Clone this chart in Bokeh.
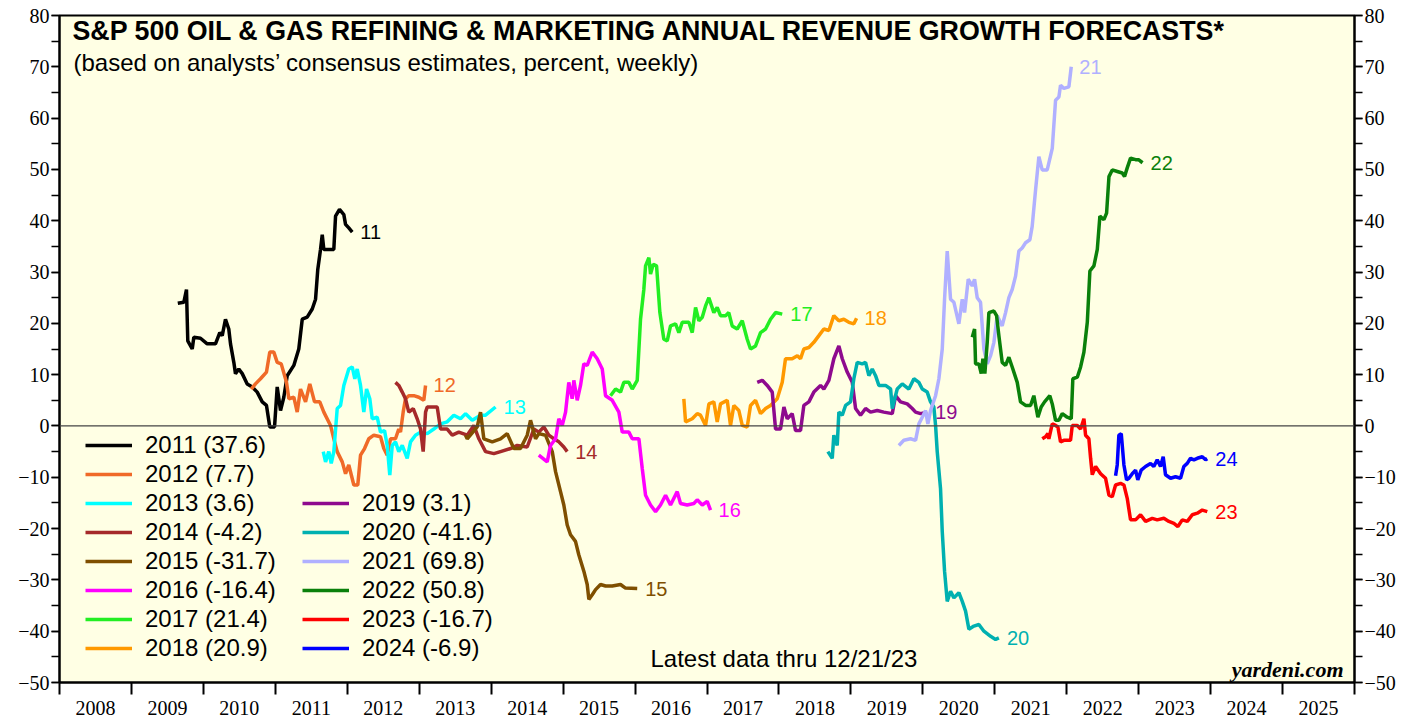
from bokeh.plotting import figure
from bokeh.models import (Range1d, LinearAxis, FixedTicker, SingleIntervalTicker, Span, Label,
                          Legend, LegendItem, ColumnDataSource)
from bokeh.core.properties import value
from bokeh.embed import file_html
from bokeh.resources import INLINE

# ---------------- data (decimal years, percent) ----------------
x2011 = [2009.644, 2009.728, 2009.765, 2009.783, 2009.845, 2009.867, 2009.96, 2010.053, 2010.168, 2010.228,
         2010.262, 2010.307, 2010.353, 2010.377, 2010.423, 2010.446, 2010.492, 2010.540, 2010.609, 2010.679,
         2010.748, 2010.818, 2010.877, 2010.923, 2010.989, 2011.026, 2011.072, 2011.118, 2011.165, 2011.257,
         2011.326, 2011.374, 2011.443, 2011.513, 2011.559, 2011.590, 2011.628, 2011.652, 2011.674, 2011.813,
         2011.837, 2011.892, 2011.952, 2011.976, 2012.021, 2012.069]
y2011 = [23.9, 24.1, 26.6, 16.6, 15.0, 17.3, 17.1, 16.0, 16.0, 18.2, 17.6, 20.8, 18.9, 16.0, 12.4, 10.2, 11.1,
         10.2, 8.2, 7.6, 6.6, 4.7, 4.0, -0.2, -0.2, 7.6, 3.0, 5.6, 9.8, 11.8, 15.0, 20.8, 21.2, 22.8, 24.7, 30.5,
         34.4, 37.3, 34.4, 34.4, 40.9, 42.2, 41.2, 39.3, 38.6, 37.8]

x2012 = [2010.665, 2010.724, 2010.794, 2010.877, 2010.923, 2010.979, 2011.026, 2011.082, 2011.155, 2011.188,
         2011.257, 2011.304, 2011.350, 2011.420, 2011.479, 2011.545, 2011.618, 2011.674, 2011.767, 2011.813,
         2011.860, 2011.930, 2011.976, 2012.021, 2012.091, 2012.146, 2012.184, 2012.240, 2012.299, 2012.369,
         2012.462, 2012.508, 2012.555, 2012.601, 2012.670, 2012.716, 2012.740, 2012.777, 2012.809, 2012.855,
         2012.925, 2012.994, 2013.064, 2013.088]
y2012 = [7.2, 8.2, 9.2, 10.5, 14.4, 14.4, 12.4, 12.1, 8.5, 5.3, 5.6, 2.7, 7.2, 4.7, 8.2, 4.7, 4.7, 2.7, 0.1, -2.5,
         -5.0, -7.0, -9.3, -7.6, -11.5, -11.5, -5.7, -4.4, -2.5, -1.8, -2.1, -4.4, -5.7, -2.5, -2.5, -0.6, -1.2,
         2.7, 5.3, 5.9, 5.9, 5.6, 5.0, 7.9]

x2013 = [2011.666, 2011.698, 2011.743, 2011.777, 2011.813, 2011.860, 2011.906, 2011.952, 2012.021, 2012.069,
         2012.105, 2012.138, 2012.184, 2012.230, 2012.268, 2012.313, 2012.347, 2012.416, 2012.462, 2012.518,
         2012.555, 2012.591, 2012.625, 2012.670, 2012.716, 2012.764, 2012.833, 2012.879, 2012.948, 2013.018,
         2013.111, 2013.203, 2013.296, 2013.389, 2013.481, 2013.574, 2013.644, 2013.737, 2013.852, 2013.922,
         2014.061]
y2013 = [-5.0, -7.0, -5.0, -7.3, -5.0, 3.4, 4.0, 7.9, 11.1, 11.5, 9.2, 11.1, 7.9, 2.7, 7.2, 5.3, 1.4, 1.7, -1.2,
         -0.9, -3.8, -9.6, -3.8, -3.1, -5.0, -3.8, -6.3, -3.1, -1.8, -1.2, -1.5, -0.6, 0.4, 0.8, 2.1, 1.4, 2.4,
         1.1, 2.1, 2.1, 3.7]

x2014 = [2012.670, 2012.716, 2012.764, 2012.809, 2012.855, 2012.917, 2012.972, 2013.018, 2013.055, 2013.088,
         2013.111, 2013.250, 2013.296, 2013.389, 2013.459, 2013.550, 2013.667, 2013.759, 2013.829, 2013.922,
         2014.037, 2014.130, 2014.269, 2014.362, 2014.501, 2014.593, 2014.662, 2014.732, 2014.801, 2014.871,
         2014.941, 2015.010, 2015.057]
y2014 = [8.5, 7.9, 6.6, 5.3, 2.7, 3.4, 1.4, -0.6, -5.0, 2.7, 3.7, 3.7, -0.6, -0.6, -1.8, -1.2, -1.8, 0.1, -2.5,
         -5.0, -5.4, -5.0, -4.4, -3.8, -4.1, -0.6, -1.2, -0.2, -1.8, -2.5, -3.1, -4.1, -5.0]

x2015 = [2013.644, 2013.667, 2013.806, 2013.852, 2013.898, 2014.015, 2014.130, 2014.223, 2014.315, 2014.408,
         2014.501, 2014.547, 2014.617, 2014.662, 2014.755, 2014.849, 2014.895, 2014.964, 2015.010, 2015.057,
         2015.103, 2015.172, 2015.218, 2015.288, 2015.335, 2015.358, 2015.405, 2015.451, 2015.520, 2015.590,
         2015.683, 2015.798, 2015.867, 2016.030]
y2015 = [-1.8, -2.5, -0.2, 2.7, -2.5, -3.1, -2.5, -1.5, -4.4, -4.4, -1.8, 1.1, -2.5, -1.5, -1.8, -5.0, -8.9,
         -12.8, -15.4, -19.3, -21.2, -22.5, -25.1, -28.3, -30.9, -33.8, -32.9, -31.9, -30.9, -31.2, -31.2,
         -30.9, -31.6, -31.7]

x2016 = [2014.662, 2014.779, 2014.825, 2014.895, 2014.941, 2014.988, 2015.034, 2015.079, 2015.126, 2015.149,
         2015.196, 2015.242, 2015.288, 2015.335, 2015.405, 2015.474, 2015.544, 2015.590, 2015.683, 2015.775,
         2015.822, 2015.914, 2015.961, 2016.053, 2016.100, 2016.146, 2016.215, 2016.285, 2016.354, 2016.424,
         2016.493, 2016.586, 2016.632, 2016.725, 2016.817, 2016.864, 2016.934, 2017.003, 2017.049]
y2016 = [-5.7, -7.0, -3.8, -2.5, 1.4, 0.1, 2.7, 8.5, 5.3, 8.9, 5.0, 7.9, 12.1, 11.8, 14.4, 13.1, 11.1, 5.9, 5.0,
         2.7, -1.2, -1.2, -2.5, -2.5, -8.3, -13.5, -15.4, -16.7, -15.4, -13.5, -15.4, -12.8, -15.1, -15.4,
         -15.1, -14.4, -15.4, -14.7, -16.4]

x2017 = [2015.659, 2015.729, 2015.798, 2015.844, 2015.914, 2015.961, 2016.030, 2016.076, 2016.122, 2016.146,
         2016.192, 2016.215, 2016.253, 2016.299, 2016.345, 2016.400, 2016.447, 2016.493, 2016.563, 2016.609,
         2016.656, 2016.748, 2016.795, 2016.841, 2016.887, 2016.934, 2016.980, 2017.026, 2017.095, 2017.142,
         2017.188, 2017.258, 2017.303, 2017.350, 2017.420, 2017.490, 2017.559, 2017.605, 2017.675, 2017.744,
         2017.814, 2017.883, 2017.953, 2018.046]
y2017 = [5.9, 7.2, 6.6, 8.5, 8.5, 7.2, 8.9, 20.8, 26.6, 31.2, 32.8, 29.6, 31.5, 31.2, 22.1, 16.9, 16.6, 19.5,
         19.9, 18.2, 20.2, 20.2, 18.2, 23.1, 20.5, 21.2, 23.4, 25.0, 22.1, 23.1, 21.5, 21.5, 22.1, 19.5, 18.9,
         20.5, 16.9, 15.0, 15.6, 18.2, 18.9, 20.8, 22.1, 21.8]

x2018 = [2016.678, 2016.702, 2016.795, 2016.864, 2016.910, 2016.980, 2017.026, 2017.095, 2017.142, 2017.188,
         2017.281, 2017.327, 2017.373, 2017.443, 2017.490, 2017.559, 2017.605, 2017.675, 2017.744, 2017.814,
         2017.883, 2017.976, 2018.046, 2018.091, 2018.184, 2018.256, 2018.300, 2018.346, 2018.416, 2018.485,
         2018.555, 2018.624, 2018.694, 2018.763, 2018.833, 2018.902, 2018.972, 2019.041, 2019.079]
y2018 = [5.3, 0.8, 1.4, 2.4, 2.1, 0.1, 4.3, 4.7, 0.8, 4.3, 5.0, 0.1, 4.0, 3.0, 0.1, -0.2, 4.0, 5.0, 2.4, 3.4,
         4.0, 5.3, 8.5, 13.1, 13.1, 13.7, 13.1, 15.0, 15.3, 16.3, 17.6, 18.9, 18.6, 21.5, 20.5, 20.8, 20.2,
         19.9, 21.0]

x2019 = [2017.698, 2017.768, 2017.837, 2017.907, 2017.953, 2018.022, 2018.069, 2018.115, 2018.184, 2018.231,
         2018.300, 2018.346, 2018.416, 2018.485, 2018.578, 2018.624, 2018.694, 2018.763, 2018.833, 2018.880,
         2018.949, 2019.019, 2019.065, 2019.134, 2019.204, 2019.273, 2019.366, 2019.458, 2019.575, 2019.621,
         2019.690, 2019.783, 2019.853, 2019.899, 2019.968, 2020.061]
y2019 = [8.5, 8.9, 7.9, 6.6, -0.6, -0.6, 3.7, 1.4, 2.4, -0.9, -0.9, 4.0, 4.7, 6.6, 7.9, 7.2, 8.9, 13.1, 15.6,
         13.1, 10.5, 8.5, 3.4, 2.1, 3.4, 2.7, 3.0, 2.7, 2.4, 5.9, 4.7, 4.3, 3.4, 2.7, 2.4, 2.7]

x2020 = [2018.680, 2018.741, 2018.763, 2018.810, 2018.833, 2018.880, 2018.926, 2018.995, 2019.041, 2019.088,
         2019.158, 2019.204, 2019.250, 2019.297, 2019.343, 2019.389, 2019.482, 2019.552, 2019.575, 2019.644,
         2019.714, 2019.806, 2019.876, 2019.945, 2019.992, 2020.061, 2020.107, 2020.153, 2020.177, 2020.200,
         2020.246, 2020.270, 2020.302, 2020.339, 2020.385, 2020.432, 2020.501, 2020.548, 2020.594, 2020.640,
         2020.710, 2020.779, 2020.849, 2020.942, 2021.011, 2021.057]
y2020 = [-5.0, -6.3, -1.8, -3.8, 2.7, 2.1, 4.0, 4.7, 9.2, 12.4, 12.1, 12.4, 9.8, 11.1, 9.8, 7.9, 7.9, 7.2, 3.4,
         7.2, 8.2, 7.2, 9.2, 8.5, 7.2, 6.6, 4.7, 3.7, 0.1, -5.0, -12.2, -20.6, -28.3, -34.2, -32.2, -33.5,
         -32.5, -34.2, -36.1, -39.6, -39.0, -38.7, -40.0, -41.0, -41.6, -41.3]

x2021 = [2019.667, 2019.736, 2019.829, 2019.899, 2019.945, 2019.992, 2020.038, 2020.070, 2020.107, 2020.177,
         2020.223, 2020.270, 2020.302, 2020.339, 2020.385, 2020.432, 2020.501, 2020.548, 2020.580, 2020.631,
         2020.687, 2020.719, 2020.756, 2020.802, 2020.849, 2020.895, 2020.942, 2020.988, 2021.034, 2021.103,
         2021.150, 2021.196, 2021.242, 2021.289, 2021.335, 2021.381, 2021.428, 2021.488, 2021.520, 2021.567,
         2021.613, 2021.659, 2021.729, 2021.799, 2021.845, 2021.891, 2021.914, 2021.960, 2022.030, 2022.063]
y2021 = [-3.8, -2.8, -2.5, -2.8, 0.4, 1.7, 3.0, 0.4, 3.0, 5.9, 9.2, 15.0, 24.7, 34.1, 24.7, 24.1, 19.9, 24.7,
         22.1, 28.6, 27.3, 28.6, 25.0, 24.1, 15.0, 12.1, 13.7, 16.3, 21.5, 19.5, 22.1, 25.0, 26.6, 29.2, 34.1,
         34.7, 35.7, 36.3, 38.9, 46.0, 52.5, 49.9, 49.9, 54.1, 63.5, 64.1, 66.4, 65.8, 66.1, 70.0]

x2022 = [2020.687, 2020.719, 2020.733, 2020.779, 2020.812, 2020.835, 2020.862, 2020.895, 2020.918, 2020.988,
         2021.025, 2021.057, 2021.103, 2021.150, 2021.196, 2021.242, 2021.312, 2021.358, 2021.428, 2021.497,
         2021.543, 2021.599, 2021.645, 2021.692, 2021.765, 2021.799, 2021.845, 2021.891, 2021.938, 2022.007,
         2022.063, 2022.085, 2022.147, 2022.193, 2022.239, 2022.286, 2022.322, 2022.378, 2022.425, 2022.461,
         2022.517, 2022.554, 2022.587, 2022.633, 2022.703, 2022.772, 2022.804, 2022.841, 2022.887, 2022.957,
         2022.998, 2023.054]
y2022 = [17.3, 18.9, 12.1, 12.1, 10.2, 13.1, 10.2, 16.3, 22.1, 22.4, 21.5, 17.6, 12.4, 11.8, 13.4, 11.5, 8.5,
         4.7, 4.0, 4.0, 5.9, 1.7, 3.7, 4.7, 5.9, 4.3, 1.1, 1.1, 2.4, 1.7, 1.4, 9.2, 9.5, 11.5, 14.4, 20.2, 30.2,
         31.2, 34.4, 40.9, 40.2, 41.5, 48.6, 49.9, 49.6, 49.3, 48.6, 50.3, 52.2, 51.9, 51.9, 51.3]

x2023 = [2021.660, 2021.706, 2021.738, 2021.752, 2021.799, 2021.845, 2021.877, 2021.914, 2021.960, 2022.053,
         2022.077, 2022.147, 2022.193, 2022.239, 2022.262, 2022.308, 2022.332, 2022.355, 2022.401, 2022.471,
         2022.540, 2022.587, 2022.633, 2022.679, 2022.749, 2022.795, 2022.841, 2022.887, 2022.957, 2023.026,
         2023.096, 2023.189, 2023.258, 2023.350, 2023.420, 2023.490, 2023.545, 2023.606, 2023.676, 2023.745,
         2023.815, 2023.884, 2023.954]
y2023 = [-2.5, -2.1, -1.5, -2.5, 0.4, 0.1, -0.2, -3.1, -2.8, -2.8, 0.1, 0.1, -0.6, 1.4, -1.8, -2.5, -6.3, -9.5,
         -7.9, -9.3, -10.2, -13.5, -13.8, -11.5, -11.2, -11.5, -14.1, -18.3, -18.3, -17.3, -18.6, -18.0, -18.3,
         -18.0, -18.6, -19.0, -19.6, -18.3, -18.6, -17.3, -17.0, -16.4, -16.7]

x2024 = [2022.679, 2022.702, 2022.725, 2022.758, 2022.795, 2022.832, 2022.865, 2022.911, 2022.957, 2022.988,
         2023.035, 2023.096, 2023.165, 2023.211, 2023.258, 2023.304, 2023.341, 2023.373, 2023.443, 2023.512,
         2023.582, 2023.628, 2023.675, 2023.721, 2023.768, 2023.815, 2023.884, 2023.930, 2023.954]
y2024 = [-9.7, -7.6, -1.8, -1.5, -7.6, -10.5, -10.2, -9.3, -8.6, -10.5, -8.6, -7.9, -7.3, -7.9, -6.6, -7.9, -6.0,
         -9.5, -10.2, -9.9, -10.2, -7.9, -7.3, -6.3, -6.6, -6.3, -6.0, -6.6, -6.4]

series_years = [2011, 2012, 2013, 2014, 2015, 2016, 2017, 2018, 2019, 2020, 2021, 2022, 2023, 2024]
series_final = [37.6, 7.7, 3.6, -4.2, -31.7, -16.4, 21.4, 20.9, 3.1, -41.6, 69.8, 50.8, -16.7, -6.9]
series_colors = ["#000000", "#F06A28", "#00FFFF", "#A52A2A", "#7F4F00", "#FF00FF", "#22EE22",
                 "#FF9900", "#8E0A8E", "#00B0B0", "#B0B0FF", "#0A800A", "#FF0000", "#0000FF"]
series_x = [x2011, x2012, x2013, x2014, x2015, x2016, x2017, x2018, x2019, x2020, x2021, x2022, x2023, x2024]
series_y = [y2011, y2012, y2013, y2014, y2015, y2016, y2017, y2018, y2019, y2020, y2021, y2022, y2023, y2024]

year_labels = [str(y) for y in range(2008, 2026)]
year_bounds = list(range(2008, 2027))

TITLE = "S&P 500 OIL & GAS REFINING & MARKETING ANNUAL REVENUE GROWTH FORECASTS*"
SUBTITLE = "(based on analysts\u2019 consensus estimates, percent, weekly)"
NOTE = "Latest data thru 12/21/23"
SOURCE = "yardeni.com"

# ---------------- figure ----------------
SANS = "Liberation Sans"
SERIF = "Liberation Serif"

p = figure(width=1419, height=717, x_range=Range1d(2008, 2026), y_range=Range1d(-50, 80),
           output_backend="svg", toolbar_location=None,
           min_border_left=59, min_border_right=65, min_border_top=15, min_border_bottom=31)
p.background_fill_color = "#FFFFE4"
p.border_fill_color = "white"
p.outline_line_color = "black"
p.outline_line_width = 2
p.grid.visible = False

# x axis: year labels centred between boundary ticks
xa = p.xaxis[0]
mids = [b + 0.5 for b in year_bounds[:-1]]
xa.ticker = FixedTicker(ticks=mids, minor_ticks=year_bounds)
xa.major_label_overrides = {m: lab for m, lab in zip(mids, year_labels)}
xa.major_tick_out = 0
xa.major_tick_in = 0
xa.minor_tick_out = 12
xa.minor_tick_in = 0
xa.minor_tick_line_width = 2
xa.minor_tick_line_color = "black"
xa.axis_line_width = 2
xa.major_label_text_font = SERIF
xa.major_label_text_font_size = "20px"
xa.major_label_text_color = "black"
xa.major_label_standoff = 6


def style_y(ax):
    ax.ticker = SingleIntervalTicker(interval=10, num_minor_ticks=2)
    ax.major_tick_out = 8
    ax.major_tick_in = 0
    ax.minor_tick_out = 8
    ax.minor_tick_in = 0
    ax.major_tick_line_width = 1.5
    ax.minor_tick_line_width = 1.5
    ax.major_tick_line_color = "black"
    ax.minor_tick_line_color = "black"
    ax.axis_line_width = 2
    ax.major_label_text_font = SERIF
    ax.major_label_text_font_size = "20px"
    ax.major_label_text_color = "black"
    ax.major_label_standoff = 2


style_y(p.yaxis[0])
ry = LinearAxis()
style_y(ry)
p.add_layout(ry, "right")

# zero line
p.add_layout(Span(location=0, dimension="width", line_color="#444444", line_width=1.2))

# series
renderers = []
for xs, ys, col in zip(series_x, series_y, series_colors):
    r = p.line(xs, ys, line_color=col, line_width=3.5)
    renderers.append(r)

# end labels
end_src = ColumnDataSource(dict(
    x=[xs[-1] for xs in series_x],
    y=[ys[-1] for ys in series_y],
    t=[str(yr)[2:] for yr in series_years],
    c=series_colors,
))
p.text(x="x", y="y", text="t", text_color="c", source=end_src, x_offset=8,
       text_baseline="middle", text_align="left",
       text_font=value(SANS), text_font_size="20px")

# legends
items = [LegendItem(label=f"{yr} ({v})", renderers=[r])
         for yr, v, r in zip(series_years, series_final, renderers)]


def make_legend(its, loc):
    return Legend(items=its, location=loc, orientation="vertical",
                  label_text_font=SANS, label_text_font_size="24px", label_text_color="black",
                  glyph_width=47, glyph_height=20, label_height=20, label_standoff=13,
                  spacing=1, padding=0, margin=0,
                  border_line_alpha=0, background_fill_alpha=0)


p.add_layout(make_legend(items[:8], (26, 20)))
p.add_layout(make_legend(items[8:], (243, 20)))

# texts
p.add_layout(Label(x=2008, y=80, x_offset=13, y_offset=-15, text=TITLE, text_font=SANS,
                   text_font_style="bold", text_font_size="26.8px", text_baseline="middle",
                   text_color="black"))
p.add_layout(Label(x=2008, y=80, x_offset=14, y_offset=-47, text=SUBTITLE, text_font=SANS,
                   text_font_size="24px", text_baseline="middle", text_color="black"))
p.add_layout(Label(x=2008, y=-50, x_offset=591, y_offset=24, text=NOTE, text_font=SANS,
                   text_font_size="24px", text_baseline="middle", text_color="black"))
p.add_layout(Label(x=2026, y=-50, x_offset=-11, y_offset=13, text=SOURCE, text_font=SERIF,
                   text_font_style="bold italic", text_font_size="22px", text_baseline="middle",
                   text_align="right", text_color="black"))

open("out.html", "w").write(file_html(p, INLINE))
